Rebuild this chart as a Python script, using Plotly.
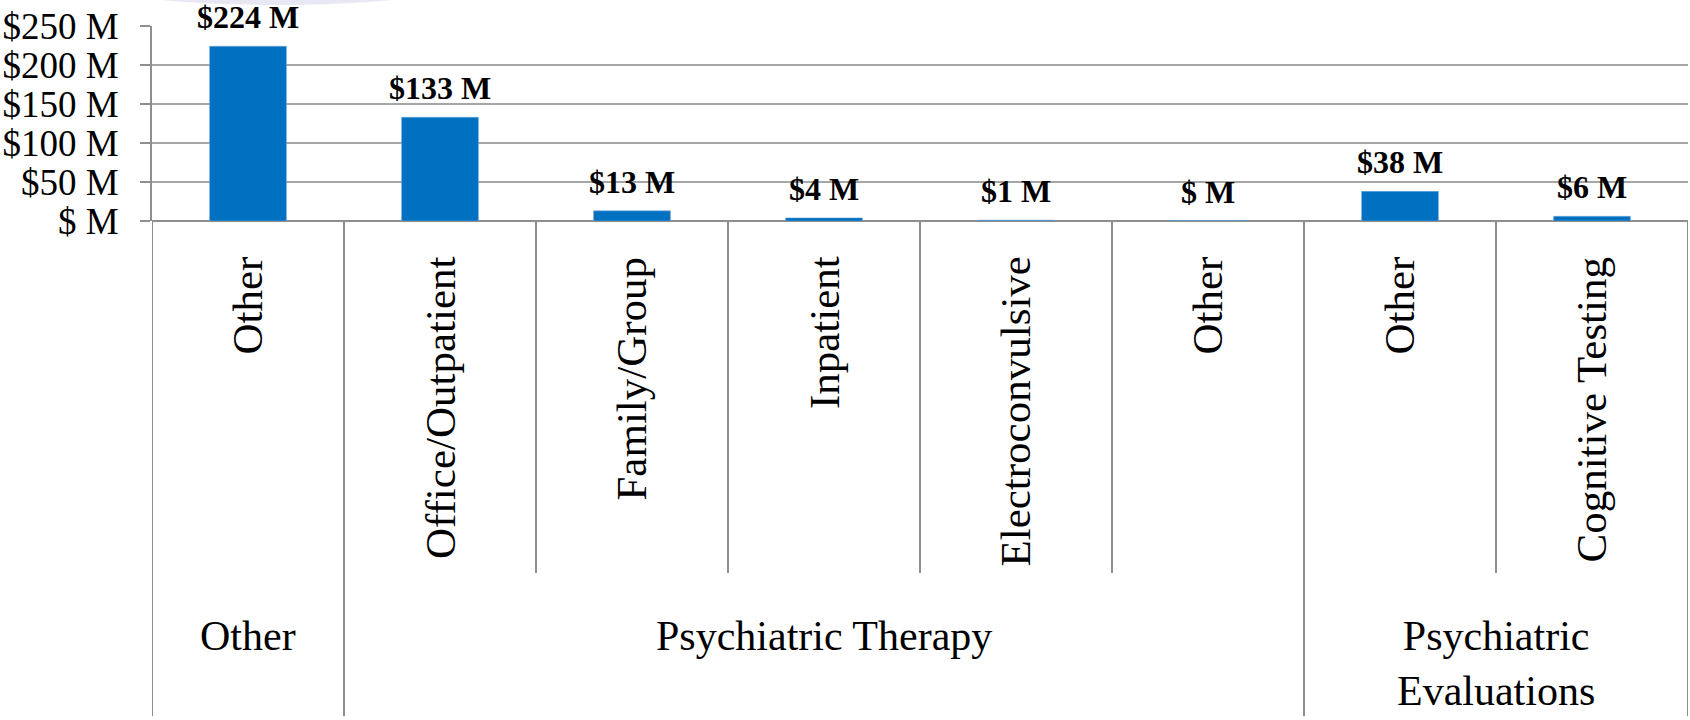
import plotly.graph_objects as go

# ---- data ----
subcategories = ["Other", "Office/Outpatient", "Family/Group", "Inpatient",
                 "Electroconvulsive", "Other", "Other", "Cognitive Testing"]
groups = ["Other", "Psychiatric Therapy", "Psychiatric<br>Evaluations"]
group_members = [[0], [1, 2, 3, 4, 5], [6, 7]]
values_musd = [224, 133, 13, 4, 1, 0.2, 38, 6]
y_tickvals = [0, 50, 100, 150, 200, 250]
y_ticktext = ["$ M", "$50 M", "$100 M", "$150 M", "$200 M", "$250 M"]

x_pos = list(range(len(subcategories)))
labels = [("$%d M" % round(v)) if round(v) > 0 else "$ M" for v in values_musd]

BLUE = "#0070C0"
LINE = "#8E8E8E"
GRID = "#A6A6A6"
FONT = "Liberation Serif, Times New Roman, serif"

fig = go.Figure()
fig.add_trace(go.Bar(
    x=x_pos, y=values_musd, width=0.40,
    marker=dict(color=BLUE, line=dict(color="#6FA8DC", width=0.6)),
    hoverinfo="skip",
))

annotations = []
# data labels
for xi, v, t in zip(x_pos, values_musd, labels):
    annotations.append(dict(
        x=xi, y=v, xref="x", yref="y", text="<b>%s</b>" % t, showarrow=False,
        yanchor="bottom", yshift=9,
        font=dict(family=FONT, size=32, color="#000000"),
    ))
# rotated subcategory labels
for xi, t in zip(x_pos, subcategories):
    annotations.append(dict(
        x=xi, y=-0.172, xref="x", yref="paper", text=t, showarrow=False,
        textangle=-90, yanchor="top", xanchor="center",
        font=dict(family=FONT, size=43, color="#000000"),
    ))
# group labels
for g, members in zip(groups, group_members):
    cx = (members[0] + members[-1]) / 2
    annotations.append(dict(
        x=cx, y=-2.0, xref="x", yref="paper", text=g, showarrow=False,
        yanchor="top", xanchor="center", align="center",
        font=dict(family=FONT, size=42, color="#000000"),
    ))

shapes = []
# faint decorative ellipse at the top
shapes.append(dict(type="circle", xref="paper", yref="paper",
                   x0=-0.0755, x1=0.238, y0=1.108, y1=1.52,
                   fillcolor="#E8E8F4", line=dict(width=0), layer="below"))
# separators
n = len(subcategories)
group_bounds = {-0.5, n - 0.5}
for members in group_members:
    group_bounds.add(members[0] - 0.5)
    group_bounds.add(members[-1] + 0.5)
for k in range(n + 1):
    xb = k - 0.5
    bottom = -2.54 if xb in group_bounds else -1.805
    shapes.append(dict(type="line", xref="x", yref="paper",
                       x0=xb, x1=xb, y0=0, y1=bottom,
                       line=dict(color=LINE, width=2)))

fig.update_layout(
    width=1690, height=720,
    margin=dict(l=152, r=2, t=26, b=499),
    paper_bgcolor="white", plot_bgcolor="white",
    showlegend=False,
    annotations=annotations, shapes=shapes,
    font=dict(family=FONT, color="#000000"),
)
fig.update_xaxes(
    range=[-0.5, n - 0.5], showticklabels=False, showgrid=False,
    zeroline=False, showline=False, ticks="",
)
fig.update_yaxes(
    range=[0, 250], tickvals=y_tickvals, ticktext=y_ticktext,
    tickfont=dict(family=FONT, size=37, color="#000000"),
    showgrid=True, gridcolor=GRID, gridwidth=1.6,
    zeroline=True, zerolinecolor=LINE, zerolinewidth=2,
    showline=True, linecolor=LINE, linewidth=2,
    ticks="outside", ticklen=10, tickcolor=LINE, tickwidth=2,
    ticklabelstandoff=14, automargin=False,
)

fig.write_html("out.html", config={"displayModeBar": False},
               post_script="document.body.style.margin='0px';")
